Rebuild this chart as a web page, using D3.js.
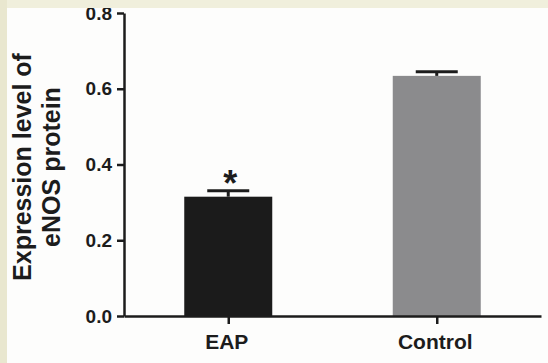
<!DOCTYPE html>
<html>
<head>
<meta charset="utf-8">
<script src="https://cdn.jsdelivr.net/npm/d3@7"></script>
<style>
  html, body { margin: 0; padding: 0; background: #fdfdfc; }
  svg { display: block; }
  text { font-family: "Liberation Sans", Arial, sans-serif; font-weight: bold; fill: #1c1c1c; }
</style>
</head>
<body>
<div class="result"></div>
<script>
const categories = ['EAP', 'Control'];
const means = [0.315, 0.634];
const errors = [0.016, 0.011];
const marks = ['*', ''];
const yTicks = [0, 0.2, 0.4, 0.6, 0.8];
const yTitle = ['Expression level of', 'eNOS protein'];

const w = 548;
const h = 363;
const barColors = ['#1b1b1b', '#8b8b8d'];
const ink = '#1c1c1c';

const svg = d3.select('.result')
  .append('svg')
  .attr('width', w)
  .attr('height', h);

svg.append('rect')
  .attr('width', w)
  .attr('height', h)
  .attr('fill', '#fdfdfc');

// Scales
const x = d3.scalePoint()
  .domain(categories)
  .range([124, 541])
  .padding(0.5);

const y = d3.scaleLinear()
  .domain([0, 0.8])
  .range([316, 13]);

const barW = 88;

// Bars
svg.selectAll('rect.bar')
  .data(categories)
  .enter()
  .append('rect')
  .attr('class', 'bar')
  .attr('x', d => x(d) - barW / 2)
  .attr('y', (d, i) => y(means[i]))
  .attr('width', barW)
  .attr('height', (d, i) => y(0) - y(means[i]))
  .attr('fill', (d, i) => barColors[i]);

// Error bars (upper only)
const err = svg.selectAll('g.err')
  .data(categories)
  .enter()
  .append('g')
  .attr('class', 'err')
  .attr('stroke', ink)
  .attr('stroke-width', 3);

err.append('line')
  .attr('x1', d => x(d))
  .attr('x2', d => x(d))
  .attr('y1', (d, i) => y(means[i]))
  .attr('y2', (d, i) => y(means[i] + errors[i]));

err.append('line')
  .attr('x1', d => x(d) - 21)
  .attr('x2', d => x(d) + 21)
  .attr('y1', (d, i) => y(means[i] + errors[i]))
  .attr('y2', (d, i) => y(means[i] + errors[i]));

// Significance marks
svg.selectAll('text.mark')
  .data(categories)
  .enter()
  .append('text')
  .attr('class', 'mark')
  .attr('x', d => x(d) + 2)
  .attr('y', (d, i) => y(means[i] + errors[i]) + 5)
  .attr('text-anchor', 'middle')
  .style('font-size', '36px')
  .text((d, i) => marks[i]);

// Axes
const yAxis = svg.append('g')
  .attr('transform', 'translate(124,0)')
  .call(d3.axisLeft(y)
    .tickValues(yTicks)
    .tickFormat(d3.format('.1f'))
    .tickSize(7)
    .tickSizeOuter(0)
    .tickPadding(5));

const xAxis = svg.append('g')
  .attr('transform', 'translate(0,316)')
  .call(d3.axisBottom(x)
    .tickSize(8)
    .tickSizeOuter(0)
    .tickPadding(10));

[yAxis, xAxis].forEach(g => {
  g.select('.domain').attr('stroke', ink).attr('stroke-width', 2.5);
  g.selectAll('.tick line').attr('stroke', ink).attr('stroke-width', 2.5);
  g.selectAll('text').attr('fill', ink).style('font-family', '"Liberation Sans", Arial, sans-serif');
});

yAxis.selectAll('text').style('font-size', '19px').style('font-weight', 'bold');
xAxis.selectAll('text').style('font-size', '21px').style('font-weight', 'bold')
  .attr('dx', -2);

// Y title
svg.append('g')
  .attr('transform', 'translate(31,167) rotate(-90)')
  .selectAll('text')
  .data(yTitle)
  .enter()
  .append('text')
  .attr('x', 0)
  .attr('y', (d, i) => i * 29)
  .attr('text-anchor', 'middle')
  .style('font-size', '25px')
  .text(d => d);

// Page frame (beige strips)
svg.append('rect')
  .attr('x', 0).attr('y', 0)
  .attr('width', w).attr('height', 8)
  .attr('fill', '#f0efdc');
svg.append('rect')
  .attr('x', 0).attr('y', 0)
  .attr('width', 7).attr('height', h)
  .attr('fill', '#e9e7cf');
</script>
</body>
</html>
